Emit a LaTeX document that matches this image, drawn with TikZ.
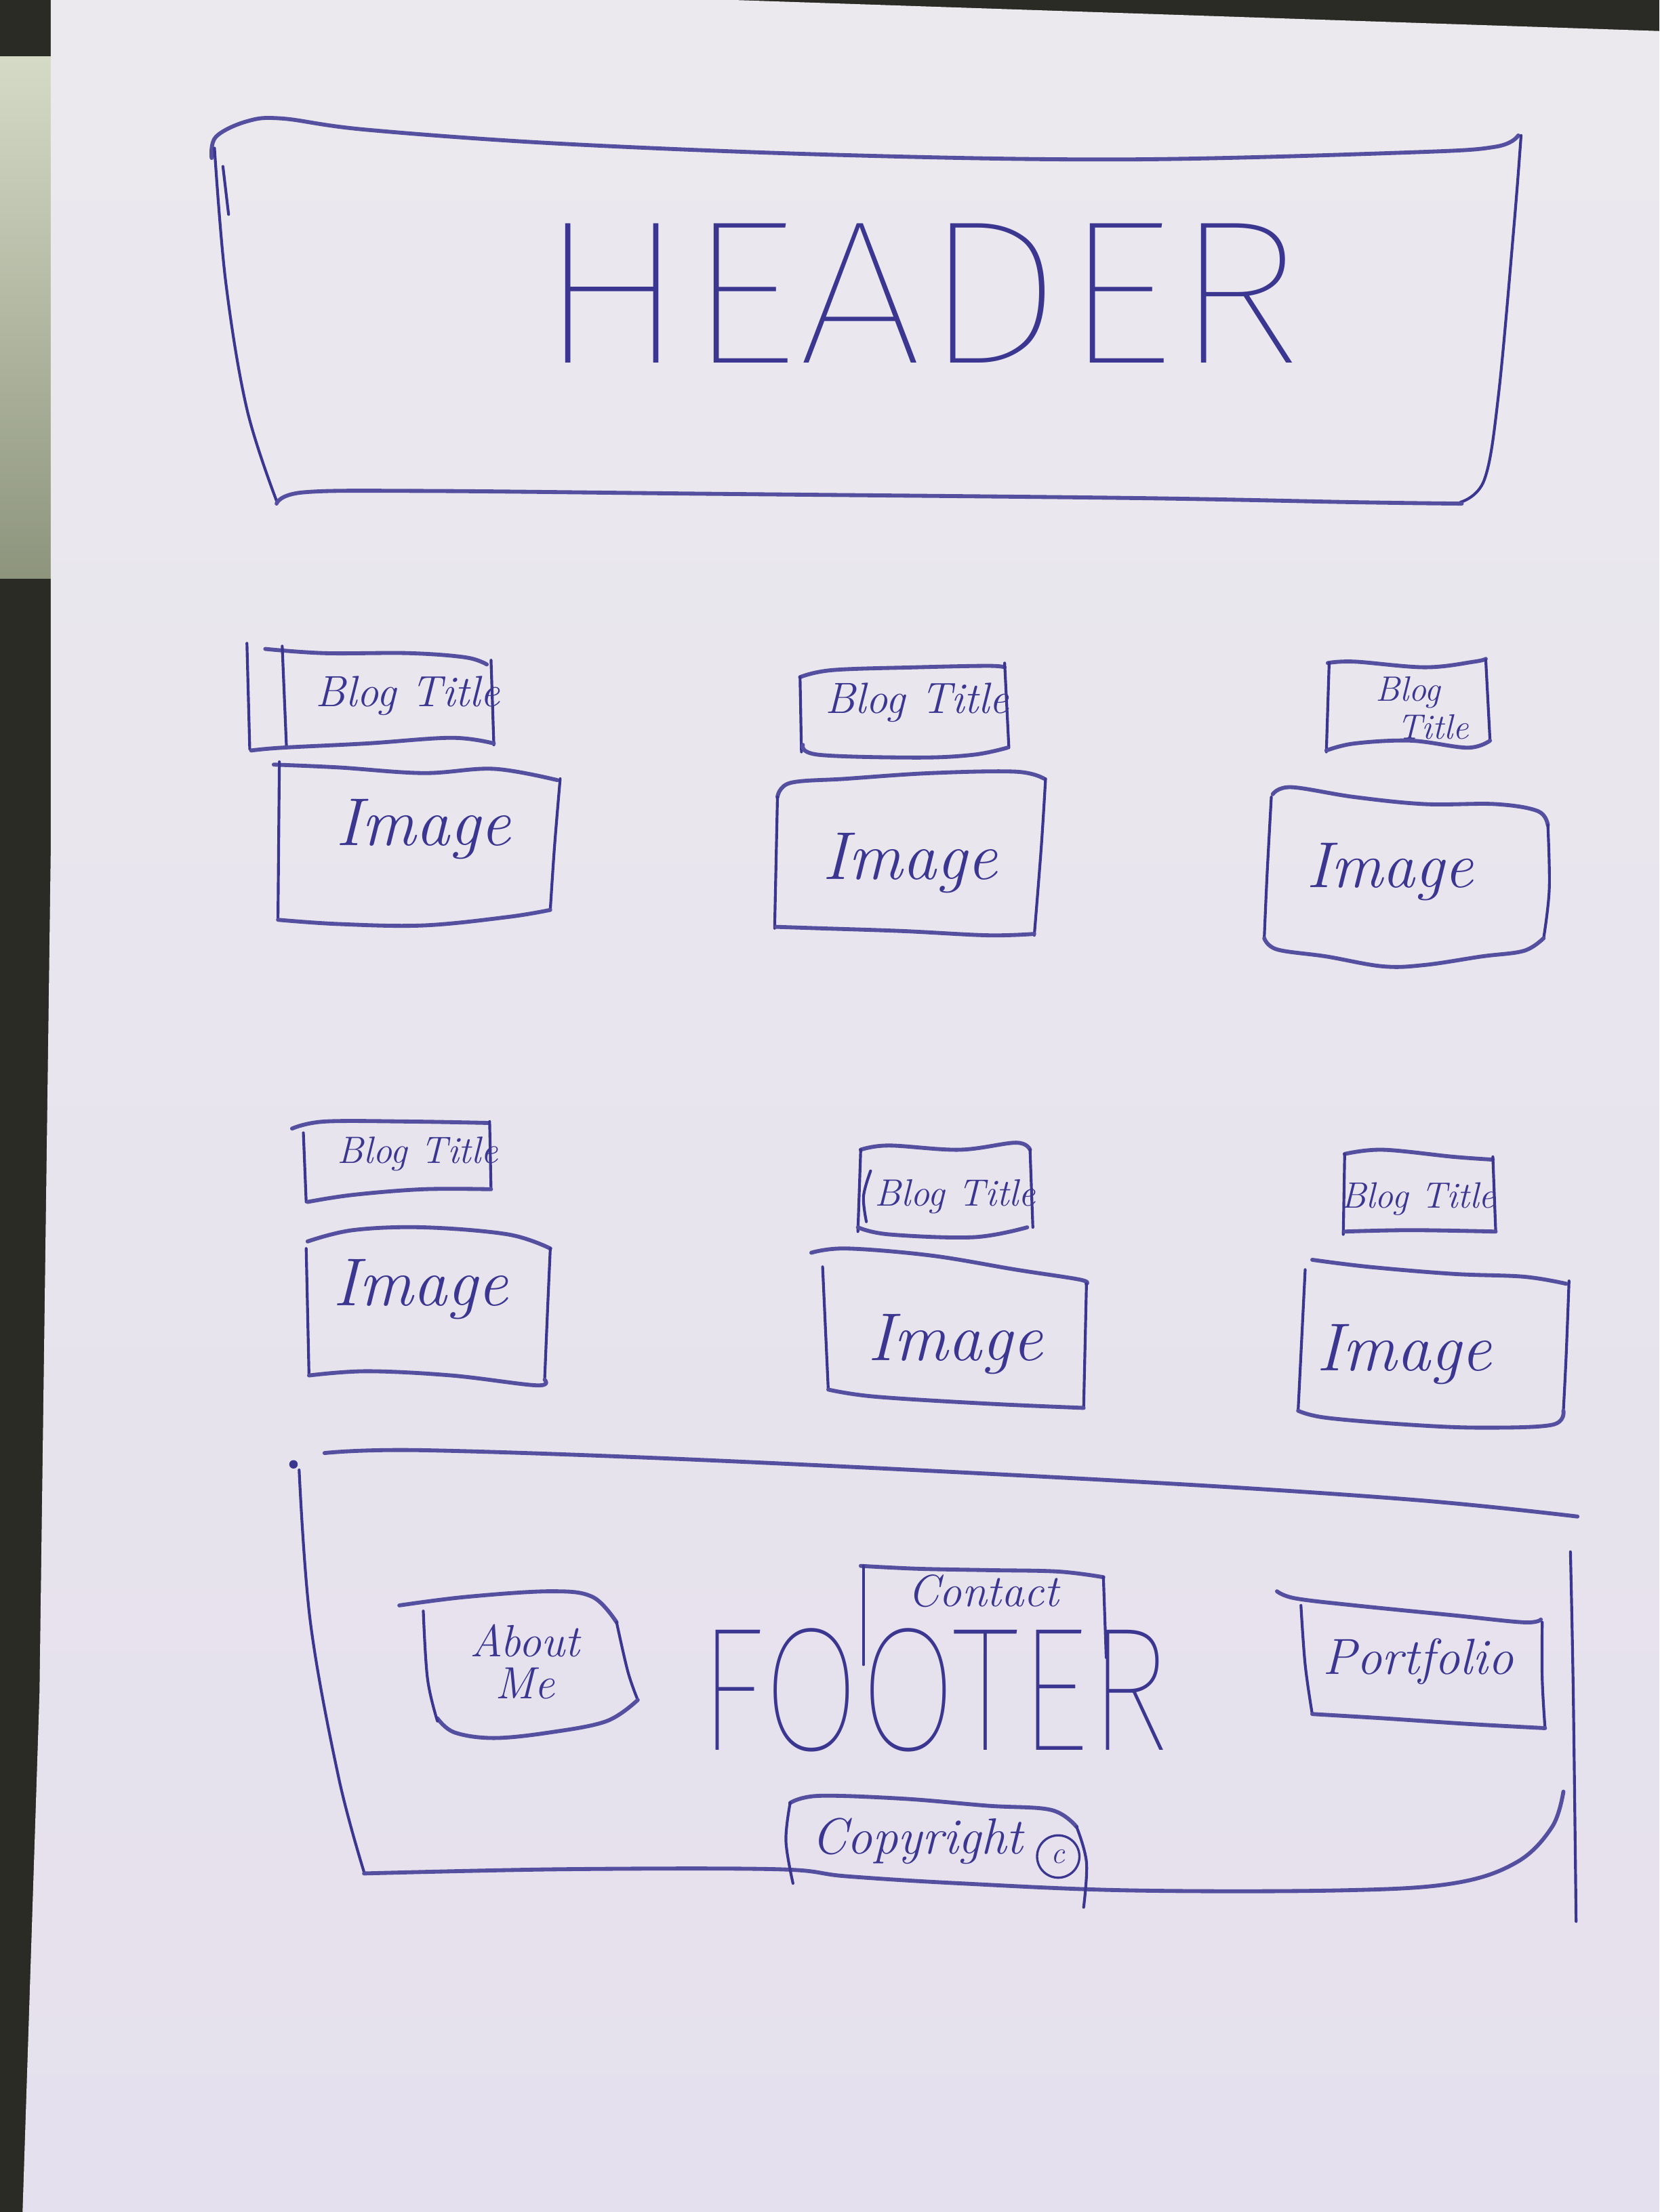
\documentclass[tikz,border=0pt]{standalone}
\usepackage{fontspec}
% thin sans capitals for the big headings, with fallbacks
\IfFontExistsTF{Fira Sans Thin}
  {\newfontfamily\capsfont{Fira Sans Thin}}
  {\IfFontExistsTF{Fira Sans ExtraLight}
    {\newfontfamily\capsfont{Fira Sans ExtraLight}}
    {\IfFontExistsTF{Fira Sans Light}
      {\newfontfamily\capsfont{Fira Sans Light}}
      {\IfFontExistsTF{DejaVu Sans ExtraLight}
        {\newfontfamily\capsfont{DejaVu Sans ExtraLight}}
        {\newfontfamily\capsfont{lmmonolt10-regular.otf}}}}}
\begin{document}
\begin{tikzpicture}[x=1pt,y=-1pt,
  pen/.style={draw=inkc, line width=2pt, line cap=round, line join=round},
  penb/.style={pen, line width=2.8pt, draw=inkc!85!paperlow},
  sk/.style={smooth, tension=0.6},
  cursive/.style={text=inkc, font=\itshape, inner sep=0pt, align=center},
  bigcaps/.style={text=inkc, inner sep=0pt}]
\definecolor{inkc}{HTML}{3B3690}
\definecolor{paperhigh}{HTML}{EDECEF}
\definecolor{paperlow}{HTML}{E3DDEC}
\definecolor{backdrop}{HTML}{2A2B25}
\definecolor{leaves}{HTML}{B9C2A2}

% backdrop behind the sheet
\useasboundingbox (0,0) rectangle (1176,1568);
\fill[backdrop] (0,0) rectangle (1176,1568);
\shade[top color=leaves!60!white, bottom color=leaves!70!backdrop]
  (0,40) -- (40,40) -- (40,410) -- (0,410) -- cycle;

% the sheet of paper
\begin{scope}
  \clip (36,0) -- (520,0) -- (1176,22) -- (1176,1568) -- (16,1568)
    -- (28,1200) -- (36,600) -- cycle;
  \shade[top color=paperhigh, bottom color=paperlow] (0,-500) rectangle (1176,2070);
\end{scope}

% ---------- header ----------
\draw[penb] plot[sk] coordinates {(150,112) (153,97) (175,86) (200,84) (260,92) (400,102) (600,110) (800,113) (1000,108) (1060,104) (1076,96)};
\draw[pen] plot[sk] coordinates {(152,105) (160,200) (175,290) (196,355)};
\draw[pen] (158,118) -- (162,152);
\draw[pen] plot[sk] coordinates {(1078,96) (1073,160) (1062,280) (1052,340) (1035,356)};
\draw[penb] plot[sk] coordinates {(196,357) (215,349) (300,348) (500,350) (800,353) (960,356) (1036,357)};
\node[bigcaps, font=\capsfont\fontsize{145}{145}\selectfont, xscale=1.1] (header) at (652,208) {HEADER};

% ---------- first row of posts ----------
% post 1
\draw[penb] plot[sk] coordinates {(188,460) (230,463) (290,463) (330,466) (345,471)};
\draw[pen] (175,456) -- (177,531);
\draw[pen] (200,458) -- (203,529);
\draw[pen] (348,468) -- (350,528);
\draw[penb] plot[sk] coordinates {(178,532) (200,530) (260,527) (320,523) (350,527)};
\node[cursive, font=\itshape\fontsize{31}{31}\selectfont] (title1) at (289,493) {Blog Title};
\draw[penb] plot[sk] coordinates {(194,542) (240,544) (300,548) (350,545) (395,553)};
\draw[pen] plot[sk] coordinates {(397,552) (393,600) (390,645)};
\draw[pen] (198,540) -- (197,652);
\draw[penb] plot[sk] coordinates {(197,652) (240,655) (300,656) (360,650) (390,645)};
\node[cursive, font=\itshape\fontsize{48}{48}\selectfont] (image1) at (300,588) {Image};

% post 2
\draw[penb] plot[sk] coordinates {(567,480) (590,475) (650,473) (700,472) (712,473)};
\draw[pen] (567,480) -- (568,533);
\draw[pen] (712,470) -- (715,530);
\draw[penb] plot[sk] coordinates {(569,528) (580,535) (650,537) (690,535) (714,530)};
\node[cursive, font=\itshape\fontsize{31}{31}\selectfont] (title2) at (650,498) {Blog Title};
\draw[penb] plot[sk] coordinates {(551,565) (560,555) (600,552) (660,548) (720,547) (740,552)};
\draw[pen] plot[sk] coordinates {(741,552) (738,600) (733,663)};
\draw[pen] (551,565) -- (549,658);
\draw[penb] plot[sk] coordinates {(550,657) (580,658) (640,660) (700,663) (733,662)};
\node[cursive, font=\itshape\fontsize{48}{48}\selectfont] (image2) at (645,612) {Image};

% post 3
\draw[penb] plot[sk] coordinates {(941,470) (960,469) (1010,473) (1045,469) (1053,467)};
\draw[pen] (942,470) -- (940,533);
\draw[pen] (1053,468) -- (1056,525);
\draw[penb] plot[sk] coordinates {(940,532) (960,527) (1000,525) (1040,530) (1056,525)};
\node[cursive, font=\itshape\fontsize{25}{27}\selectfont] (title3) at (998,502) {Blog\\\hspace*{1.4em}Title};
\draw[penb] plot[sk] coordinates {(902,563) (915,558) (960,565) (1010,570) (1060,570) (1090,575) (1097,585)};
\draw[pen] plot[sk] coordinates {(1097,585) (1098,630) (1094,665)};
\draw[pen] plot[sk] coordinates {(901,565) (898,620) (896,665)};
\draw[penb] plot[sk] coordinates {(896,665) (905,673) (940,678) (980,685) (1010,684) (1050,678) (1080,674) (1094,665)};
\node[cursive, font=\itshape\fontsize{46}{46}\selectfont] (image3) at (985,618) {Image};

% ---------- second row of posts ----------
% post 4
\draw[penb] plot[sk] coordinates {(207,800) (230,795) (290,795) (346,796)};
\draw[pen] (215,803) -- (217,852);
\draw[pen] (347,795) -- (348,843);
\draw[penb] plot[sk] coordinates {(218,852) (250,847) (300,843) (348,843)};
\node[cursive, font=\itshape\fontsize{27}{27}\selectfont] (title4) at (296,818) {Blog Title};
\draw[penb] plot[sk] coordinates {(218,880) (250,872) (300,870) (360,875) (390,885)};
\draw[pen] plot[sk] coordinates {(390,885) (388,930) (386,978)};
\draw[pen] (217,885) -- (219,975);
\draw[penb] plot[sk] coordinates {(219,975) (260,972) (320,975) (380,982) (386,978)};
\node[cursive, font=\itshape\fontsize{48}{48}\selectfont] (image4) at (298,914) {Image};

% post 5
\draw[penb] plot[sk] coordinates {(610,815) (630,812) (680,815) (720,810) (730,815)};
\draw[pen] (610,815) -- (608,873);
\draw[pen] (730,815) -- (732,870);
\draw[pen] plot[sk] coordinates {(617,830) (612,848) (614,866)};
\draw[penb] plot[sk] coordinates {(608,870) (630,875) (690,877) (728,870)};
\node[cursive, font=\itshape\fontsize{27}{27}\selectfont] (title5) at (677,848) {Blog Title};
\draw[penb] plot[sk] coordinates {(575,888) (600,885) (660,890) (720,900) (765,907) (770,910)};
\draw[pen] (583,898) -- (587,985);
\draw[pen] (770,910) -- (768,998);
\draw[penb] plot[sk] coordinates {(587,985) (620,990) (700,995) (768,998)};
\node[cursive, font=\itshape\fontsize{48}{48}\selectfont] (image5) at (677,953) {Image};

% post 6
\draw[penb] plot[sk] coordinates {(953,818) (980,815) (1030,820) (1058,822)};
\draw[pen] (953,818) -- (952,875);
\draw[pen] (1058,820) -- (1060,872);
\draw[penb] plot[sk] coordinates {(953,873) (1000,872) (1060,873)};
\node[cursive, font=\itshape\fontsize{26}{26}\selectfont] (title6) at (1005,850) {Blog Title};
\draw[penb] plot[sk] coordinates {(930,893) (970,898) (1030,903) (1080,905) (1110,910)};
\draw[pen] (925,900) -- (920,1000);
\draw[pen] plot[sk] coordinates {(1112,908) (1110,960) (1108,1000)};
\draw[penb] plot[sk] coordinates {(920,1000) (940,1005) (1000,1010) (1050,1012) (1100,1010) (1108,1000)};
\node[cursive, font=\itshape\fontsize{48}{48}\selectfont] (image6) at (995,960) {Image};

% ---------- footer ----------
\fill[inkc] (208,1038) circle (3);
\draw[penb] plot[sk] coordinates {(230,1030) (300,1028) (500,1035) (800,1050) (1000,1063) (1118,1075)};
\draw[pen] plot[sk] coordinates {(212,1042) (220,1150) (240,1260) (258,1327)};
\draw[penb] plot[sk] coordinates {(258,1328) (400,1325) (550,1325) (600,1330) (680,1335) (800,1340) (950,1340) (1030,1335) (1075,1320) (1100,1295) (1108,1270)};
\draw[pen] plot[sk] coordinates {(1113,1100) (1115,1200) (1117,1362)};

% about me
\draw[penb] plot[sk] coordinates {(283,1138) (330,1132) (390,1128) (420,1132) (437,1150)};
\draw[pen] plot[sk] coordinates {(437,1150) (445,1185) (452,1205)};
\draw[penb] plot[sk] coordinates {(452,1205) (430,1220) (390,1228) (350,1232) (322,1228) (310,1218)};
\draw[pen] plot[sk] coordinates {(300,1142) (303,1190) (310,1220)};
\node[cursive, font=\itshape\fontsize{32}{30}\selectfont] (about) at (372,1178) {About\\Me};

% footer lettering
\node[bigcaps, font=\capsfont\fontsize{125}{125}\selectfont, xscale=0.8] (footer) at (662,1198) {FOOTER};

% contact
\draw[penb] plot[sk] coordinates {(610,1110) (650,1112) (700,1113) (750,1114) (782,1118)};
\draw[pen] (782,1118) -- (784,1175);
\draw[pen] (612,1110) -- (612,1180);
\node[cursive, font=\itshape\fontsize{32}{32}\selectfont] (contact) at (697,1128) {Contact};

% portfolio
\draw[penb] plot[sk] coordinates {(905,1128) (918,1133) (960,1138) (1030,1145) (1080,1150) (1092,1148)};
\draw[pen] plot[sk] coordinates {(922,1138) (925,1180) (930,1215)};
\draw[pen] plot[sk] coordinates {(1093,1150) (1093,1190) (1095,1225)};
\draw[penb] plot[sk] coordinates {(930,1215) (980,1218) (1040,1222) (1095,1225)};
\node[cursive, font=\itshape\fontsize{36}{36}\selectfont] (portfolio) at (1005,1178) {Portfolio};

% copyright
\draw[penb] plot[sk] coordinates {(560,1278) (580,1273) (640,1275) (700,1280) (745,1283) (763,1295)};
\draw[pen] plot[sk] coordinates {(763,1295) (770,1320) (768,1352)};
\draw[pen] plot[sk] coordinates {(560,1278) (557,1305) (562,1335)};
\node[cursive, font=\itshape\fontsize{36}{36}\selectfont] (copyright) at (650,1305) {Copyright};
\node[cursive, draw=inkc, line width=1.6pt, circle, minimum size=30pt, font=\itshape\fontsize{22}{22}\selectfont] (copysign) at (750,1316) {c};
\end{tikzpicture}
\end{document}
